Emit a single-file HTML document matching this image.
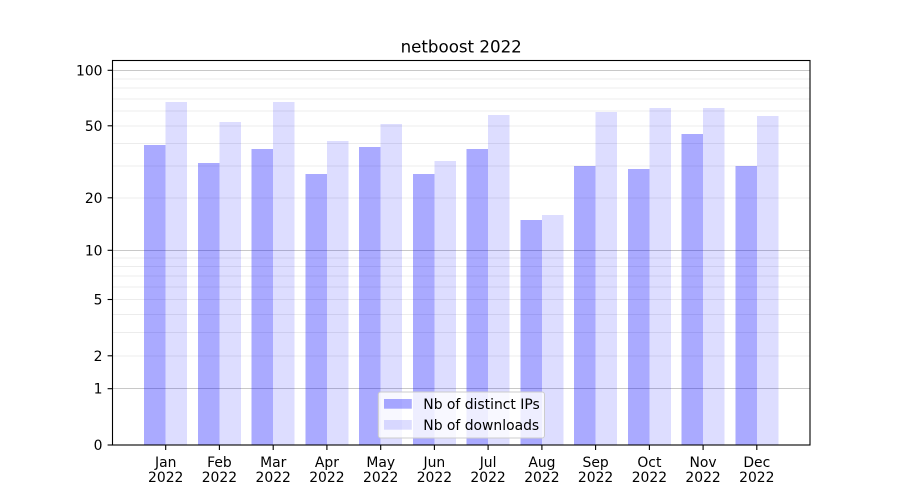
<!DOCTYPE html>
<html><head><meta charset="utf-8"><style>
html,body{margin:0;padding:0;background:#fff;}
svg{display:block;}
text{font-family:"DejaVu Sans","Liberation Sans",sans-serif;fill:#000;}
</style></head><body>
<svg width="900" height="500" viewBox="0 0 900 500" xmlns="http://www.w3.org/2000/svg">
<rect x="0" y="0" width="900" height="500" fill="#fff"/>
<!-- minor gridlines -->
<g stroke="#ececec" stroke-width="1" shape-rendering="crispEdges">
<line x1="112.5" x2="810" y1="355.8" y2="355.8"/>
<line x1="112.5" x2="810" y1="332.4" y2="332.4"/>
<line x1="112.5" x2="810" y1="314.3" y2="314.3"/>
<line x1="112.5" x2="810" y1="299.5" y2="299.5"/>
<line x1="112.5" x2="810" y1="287.0" y2="287.0"/>
<line x1="112.5" x2="810" y1="276.2" y2="276.2"/>
<line x1="112.5" x2="810" y1="266.6" y2="266.6"/>
<line x1="112.5" x2="810" y1="258.1" y2="258.1"/>
<line x1="112.5" x2="810" y1="197.8" y2="197.8"/>
<line x1="112.5" x2="810" y1="166.2" y2="166.2"/>
<line x1="112.5" x2="810" y1="143.5" y2="143.5"/>
<line x1="112.5" x2="810" y1="125.8" y2="125.8"/>
<line x1="112.5" x2="810" y1="111.2" y2="111.2"/>
<line x1="112.5" x2="810" y1="98.9" y2="98.9"/>
<line x1="112.5" x2="810" y1="88.2" y2="88.2"/>
<line x1="112.5" x2="810" y1="78.8" y2="78.8"/>
</g>
<!-- major gridlines -->
<g stroke="#c8c8c8" stroke-width="1" shape-rendering="crispEdges">
<line x1="112.5" x2="810" y1="388.7" y2="388.7"/>
<line x1="112.5" x2="810" y1="250.3" y2="250.3"/>
<line x1="112.5" x2="810" y1="70.3" y2="70.3"/>
</g>
<!-- bars: IPs -->
<g fill="#0000ff" fill-opacity="0.333" shape-rendering="crispEdges">
<rect x="144.2" y="145" width="21.5" height="300"/>
<rect x="197.9" y="163" width="21.5" height="282"/>
<rect x="251.7" y="149" width="21.5" height="296"/>
<rect x="305.4" y="174" width="21.5" height="271"/>
<rect x="359.2" y="147" width="21.5" height="298"/>
<rect x="412.9" y="174" width="21.5" height="271"/>
<rect x="466.6" y="149" width="21.5" height="296"/>
<rect x="520.4" y="220" width="21.5" height="225"/>
<rect x="574.1" y="166" width="21.5" height="279"/>
<rect x="627.9" y="169" width="21.5" height="276"/>
<rect x="681.6" y="134" width="21.5" height="311"/>
<rect x="735.3" y="166" width="21.5" height="279"/>
</g>
<!-- bars: downloads -->
<g fill="#0000ff" fill-opacity="0.133" shape-rendering="crispEdges">
<rect x="165.7" y="102" width="21.5" height="343"/>
<rect x="219.4" y="122" width="21.5" height="323"/>
<rect x="273.2" y="102" width="21.5" height="343"/>
<rect x="326.9" y="141" width="21.5" height="304"/>
<rect x="380.7" y="124" width="21.5" height="321"/>
<rect x="434.4" y="161" width="21.5" height="284"/>
<rect x="488.1" y="115" width="21.5" height="330"/>
<rect x="541.9" y="215" width="21.5" height="230"/>
<rect x="595.6" y="112" width="21.5" height="333"/>
<rect x="649.4" y="108" width="21.5" height="337"/>
<rect x="703.1" y="108" width="21.5" height="337"/>
<rect x="756.8" y="116" width="21.5" height="329"/>
</g>
<!-- spines -->
<rect x="112.5" y="60.5" width="697.5" height="384.5" fill="none" stroke="#000" stroke-width="1.1"/>
<!-- y ticks -->
<g stroke="#000" stroke-width="1.1">
<line x1="107.6" x2="112.5" y1="445" y2="445"/>
<line x1="107.6" x2="112.5" y1="388.7" y2="388.7"/>
<line x1="107.6" x2="112.5" y1="355.8" y2="355.8"/>
<line x1="107.6" x2="112.5" y1="299.5" y2="299.5"/>
<line x1="107.6" x2="112.5" y1="250.3" y2="250.3"/>
<line x1="107.6" x2="112.5" y1="197.8" y2="197.8"/>
<line x1="107.6" x2="112.5" y1="125.8" y2="125.8"/>
<line x1="107.6" x2="112.5" y1="70.3" y2="70.3"/>
</g>
<g font-size="13.9" text-anchor="end">
<text x="102.5" y="450">0</text>
<text x="102.5" y="393.7">1</text>
<text x="102.5" y="360.8">2</text>
<text x="102.5" y="304.5">5</text>
<text x="102.5" y="255.3">10</text>
<text x="102.5" y="202.8">20</text>
<text x="102.5" y="130.8">50</text>
<text x="102.5" y="75.3">100</text>
</g>
<!-- x ticks -->
<g stroke="#000" stroke-width="1.1">
<line x1="165.7" x2="165.7" y1="445" y2="450"/>
<line x1="219.4" x2="219.4" y1="445" y2="450"/>
<line x1="273.2" x2="273.2" y1="445" y2="450"/>
<line x1="326.9" x2="326.9" y1="445" y2="450"/>
<line x1="380.7" x2="380.7" y1="445" y2="450"/>
<line x1="434.4" x2="434.4" y1="445" y2="450"/>
<line x1="488.1" x2="488.1" y1="445" y2="450"/>
<line x1="541.9" x2="541.9" y1="445" y2="450"/>
<line x1="595.6" x2="595.6" y1="445" y2="450"/>
<line x1="649.4" x2="649.4" y1="445" y2="450"/>
<line x1="703.1" x2="703.1" y1="445" y2="450"/>
<line x1="756.8" x2="756.8" y1="445" y2="450"/>
</g>
<g font-size="13.9" text-anchor="middle">
<text x="165.7" y="467">Jan</text><text x="165.7" y="482">2022</text>
<text x="219.4" y="467">Feb</text><text x="219.4" y="482">2022</text>
<text x="273.2" y="467">Mar</text><text x="273.2" y="482">2022</text>
<text x="326.9" y="467">Apr</text><text x="326.9" y="482">2022</text>
<text x="380.7" y="467">May</text><text x="380.7" y="482">2022</text>
<text x="434.4" y="467">Jun</text><text x="434.4" y="482">2022</text>
<text x="488.1" y="467">Jul</text><text x="488.1" y="482">2022</text>
<text x="541.9" y="467">Aug</text><text x="541.9" y="482">2022</text>
<text x="595.6" y="467">Sep</text><text x="595.6" y="482">2022</text>
<text x="649.4" y="467">Oct</text><text x="649.4" y="482">2022</text>
<text x="703.1" y="467">Nov</text><text x="703.1" y="482">2022</text>
<text x="756.8" y="467">Dec</text><text x="756.8" y="482">2022</text>
</g>
<!-- title -->
<text x="461.2" y="52.3" font-size="16.67" text-anchor="middle">netboost 2022</text>
<!-- legend -->
<rect x="378.3" y="392" width="166.2" height="46" rx="2.5" ry="2.5" fill="#fff" fill-opacity="0.8" stroke="#cccccc" stroke-width="1"/>
<rect x="384" y="399" width="27.8" height="9.7" fill="#0000ff" fill-opacity="0.333"/>
<rect x="384" y="420" width="27.8" height="9.7" fill="#0000ff" fill-opacity="0.133"/>
<text x="423.3" y="409" font-size="13.9">Nb of distinct IPs</text>
<text x="423.3" y="430" font-size="13.9">Nb of downloads</text>
</svg>
</body></html>
